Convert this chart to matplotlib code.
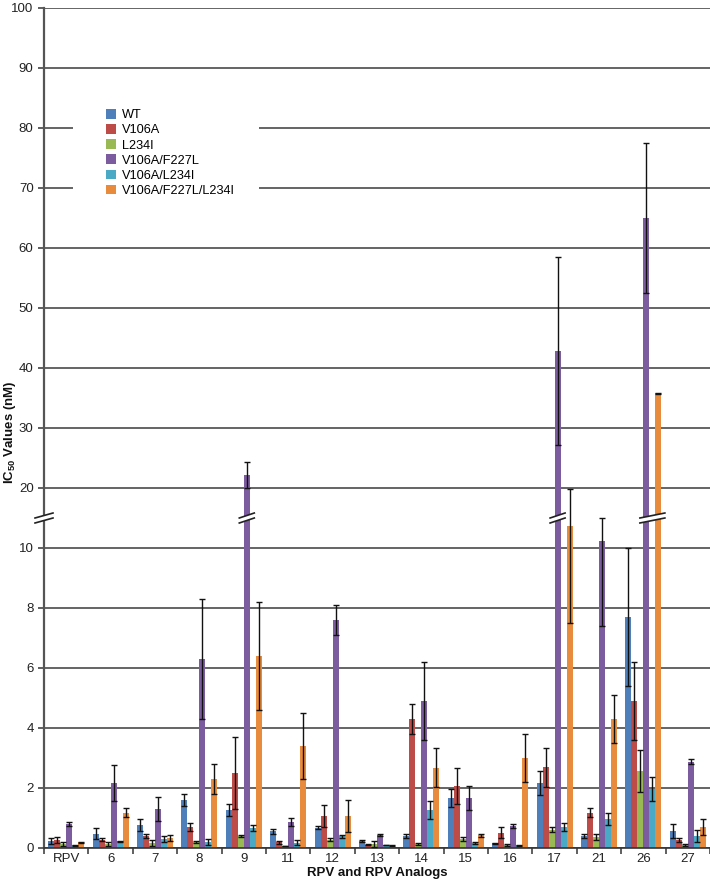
import matplotlib
matplotlib.use('Agg')
import matplotlib.pyplot as plt
import numpy as np
from matplotlib.patches import Polygon, Rectangle, Patch
from matplotlib.transforms import IdentityTransform

plt.rcParams['font.family'] = ['Liberation Sans', 'DejaVu Sans']
plt.rcParams['mathtext.fontset'] = 'custom'
plt.rcParams['mathtext.rm'] = 'Liberation Sans:bold'
plt.rcParams['mathtext.bf'] = 'Liberation Sans:bold'

compounds = ['RPV', '6', '7', '8', '9', '11', '12', '13', '14', '15', '16', '17', '21', '26', '27']
mutants = ['WT', 'V106A', 'L234I', 'V106A/F227L', 'V106A/L234I', 'V106A/F227L/L234I']
colors = ['#4f7fba', '#bd4b48', '#98b954', '#7c5c9e', '#4aa9c4', '#e98b3c']

# IC50 values (nM) and error bars, one list per mutant
wt = [0.22, 0.48, 0.77, 1.59, 1.28, 0.56, 0.68, 0.24, 0.39, 1.68, 0.16, 2.18, 0.39, 7.7, 0.57]
wt_err = [0.1, 0.19, 0.2, 0.2, 0.2, 0.08, 0.06, 0.04, 0.07, 0.3, 0.01, 0.4, 0.07, 2.3, 0.24]
v106a = [0.27, 0.28, 0.39, 0.69, 2.49, 0.19, 1.07, 0.11, 4.29, 2.08, 0.51, 2.69, 1.18, 4.9, 0.27]
v106a_err = [0.09, 0.04, 0.07, 0.13, 1.2, 0.06, 0.37, 0.01, 0.5, 0.6, 0.18, 0.65, 0.14, 1.3, 0.07]
l234i = [0.13, 0.14, 0.18, 0.2, 0.4, 0.07, 0.27, 0.13, 0.13, 0.31, 0.11, 0.61, 0.37, 2.58, 0.1]
l234i_err = [0.07, 0.07, 0.1, 0.03, 0.02, 0.01, 0.05, 0.1, 0.04, 0.07, 0.04, 0.08, 0.09, 0.7, 0.03]
v106a_f227l = [0.8, 2.18, 1.29, 6.3, 22.2, 0.86, 7.6, 0.43, 4.9, 1.68, 0.73, 42.8, 11.2, 65.0, 2.88]
v106a_f227l_err = [0.07, 0.6, 0.4, 2.0, 2.2, 0.13, 0.5, 0.03, 1.3, 0.4, 0.06, 15.7, 3.8, 12.5, 0.08]
v106a_l234i = [0.09, 0.22, 0.29, 0.19, 0.67, 0.18, 0.39, 0.1, 1.28, 0.17, 0.09, 0.7, 0.97, 1.98, 0.39]
v106a_l234i_err = [0.01, 0.01, 0.1, 0.1, 0.1, 0.08, 0.04, 0.01, 0.3, 0.02, 0.01, 0.12, 0.19, 0.4, 0.2]
triple = [0.19, 1.18, 0.32, 2.29, 6.4, 3.39, 1.07, 0.08, 2.68, 0.43, 2.99, 13.7, 4.29, 35.8, 0.7]
triple_err = [0.02, 0.15, 0.1, 0.5, 1.8, 1.1, 0.53, 0.01, 0.65, 0.05, 0.8, 6.2, 0.8, 0.1, 0.27]

series = [wt, v106a, l234i, v106a_f227l, v106a_l234i, triple]
errors = [wt_err, v106a_err, l234i_err, v106a_f227l_err, v106a_l234i_err, triple_err]

y_ticks = [0, 2, 4, 6, 8, 10, 20, 30, 40, 50, 60, 70, 80, 90, 100]
y_break = 15


# broken axis: 0-10 linear, above 10 compressed 5x
def fwd(y):
    y = np.asarray(y, dtype=float)
    return np.where(y <= 10, y, 10 + (y - 10) / 5.0)


def inv(f):
    f = np.asarray(f, dtype=float)
    return np.where(f <= 10, f, 10 + (f - 10) * 5.0)


W, H = 710, 881
fig = plt.figure(figsize=(W / 100, H / 100), dpi=100)
ax = fig.add_axes([44 / W, 33 / H, 666 / W, 840 / H])
ax.set_yscale('function', functions=(fwd, inv))

x = np.arange(len(compounds))
bw = 0.135
for i, (vals, errs) in enumerate(zip(series, errors)):
    xs = x + (i - 2.5) * bw
    ax.bar(xs, vals, width=bw, color=colors[i], label=mutants[i], zorder=2)
    ax.errorbar(xs, vals, yerr=errs, fmt='none', ecolor='#111111', elinewidth=1.0,
                capsize=2.2, capthick=1.0, zorder=3)

ax.set_xlim(-0.5, len(compounds) - 0.5)
ax.set_ylim(0, 100)
ax.set_yticks(y_ticks)
ax.set_yticklabels([str(t) for t in y_ticks])
ax.set_xticks(x)
ax.set_xticklabels(compounds)
ax.set_xticks(np.arange(-0.5, len(compounds)), minor=True)
ax.tick_params(axis='x', which='major', length=0, pad=3.5, labelsize=9.5, colors='#222222')
ax.tick_params(axis='x', which='minor', length=4, width=1.2, color='#444444')
ax.tick_params(axis='y', length=4.5, width=1.2, pad=3, labelsize=9.5, color='#444444',
               labelcolor='#222222')

ax.set_axisbelow(True)
ax.grid(axis='y', color='#3a3a3a', linewidth=1.1, zorder=0.5)
ax.grid(axis='x', visible=False)
for s in ['top', 'right']:
    ax.spines[s].set_visible(False)
ax.spines['left'].set_color('#555555')
ax.spines['left'].set_linewidth(1.6)
ax.spines['bottom'].set_color('#333333')
ax.spines['bottom'].set_linewidth(1.2)

fig.canvas.draw()


def break_mark(xd, half_w):
    px, py = ax.transData.transform((xd, y_break))
    dy = 2.5
    gap = 2.5
    pts = [(px - half_w, py - dy - gap), (px + half_w, py + dy - gap),
           (px + half_w, py + dy + gap), (px - half_w, py - dy + gap)]
    ax.add_patch(Polygon(pts, closed=True, facecolor='white', edgecolor='none',
                         transform=IdentityTransform(), zorder=5, clip_on=False))
    for g in (-gap, gap):
        ax.plot([px - half_w, px + half_w], [py - dy + g, py + dy + g], color='#222222',
                lw=1.2, transform=IdentityTransform(), zorder=6, clip_on=False)


# y-axis break and the bars that cross it
break_mark(-0.5, 9)
for gi in (4, 11):
    break_mark(gi + 0.5 * bw, 7.5)
break_mark(13 + 1.5 * bw, 12.5)

# legend with white box hiding the gridlines
ax.add_patch(Rectangle((73, H - 205), 186, 100, facecolor='white', edgecolor='none',
                       transform=IdentityTransform(), zorder=1))
handles = [Patch(facecolor=c, edgecolor='none') for c in colors]
ax.legend(handles, mutants, loc='upper left', bbox_to_anchor=(106 / W, 1 - 109 / H),
          bbox_transform=fig.transFigure, frameon=False, fontsize=9.2, borderpad=0,
          borderaxespad=0, handlelength=0.8, handleheight=0.8, handletextpad=0.45,
          labelspacing=0.22)

fig.text(10 / W, 1 - 432 / H, r'IC$_{50}$ Values (nM)', rotation=90,
         ha='center', va='center', fontsize=9.5, fontweight='bold', color='#111111')
fig.text(377 / W, 1 - 873 / H, 'RPV and RPV Analogs', ha='center', va='center',
         fontsize=9.5, fontweight='bold', color='#111111')

fig.savefig('out.png', dpi=100)
plt.close(fig)
